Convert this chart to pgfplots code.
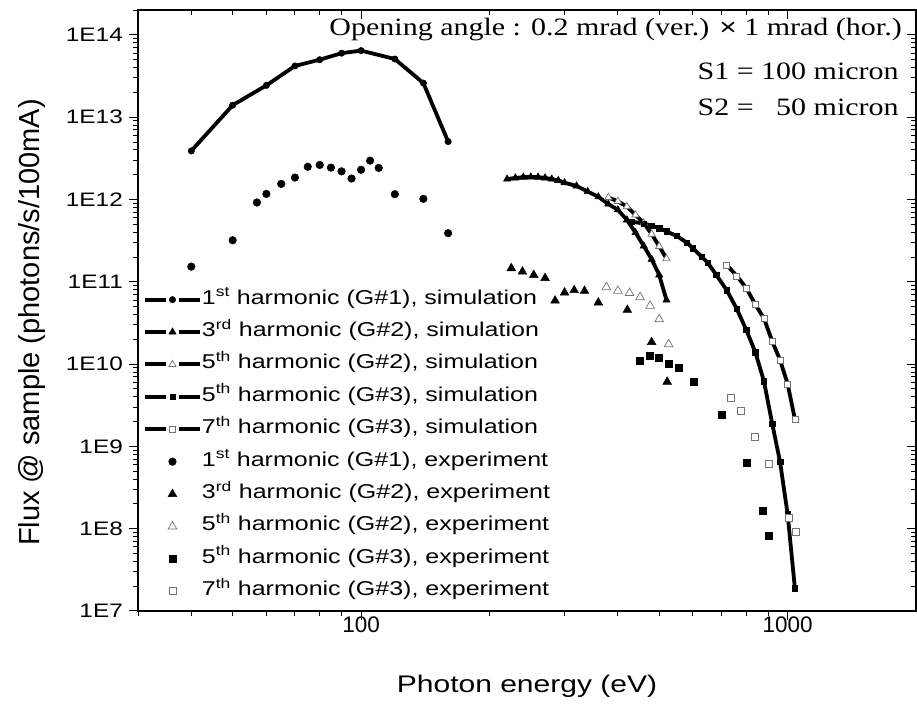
\documentclass[border=0pt]{standalone}
\usepackage{fontspec}
\setmainfont{Liberation Sans}
\newfontfamily\widesans{Liberation Sans}[FakeStretch=1.25]
\newfontfamily\wideserif{Liberation Serif}[FakeStretch=1.2]
\usepackage{pgfplots}
\pgfplotsset{compat=1.18}
\pgfplotsset{
  /pgfplots/simleg/.style={legend image code/.code={
    \draw[line width=4pt] (0pt,0pt) -- (21pt,0pt);
    \draw[line width=4pt] (34pt,0pt) -- (55pt,0pt);
    \draw plot[only marks] coordinates {(27.5pt,0pt)};}},
  /pgfplots/expleg/.style={legend image code/.code={
    \draw plot[only marks] coordinates {(27.5pt,0pt)};}},
}
\begin{document}
\begin{tikzpicture}
\path[use as bounding box] (-138pt,-95pt) rectangle (779pt,611pt);
\begin{axis}[
  at={(0,0)}, anchor=south west,
  scale only axis, width=778pt, height=601pt,
  xmode=log, ymode=log,
  xmin=30, xmax=2000, ymin=1e7, ymax=2.01e14,
  axis line style={line width=1.4pt},
  every tick/.style={black, line width=1pt},
  major tick length=9pt, minor tick length=5pt,
  xtick={100,1000},
  minor xtick={30,40,50,60,70,80,90,200,300,400,500,600,700,800,900},
  ytick={1e7,1e8,1e9,1e10,1e11,1e12,1e13,1e14},
  minor ytick={2e7,3e7,4e7,5e7,6e7,7e7,8e7,9e7,
    2e8,3e8,4e8,5e8,6e8,7e8,8e8,9e8,
    2e9,3e9,4e9,5e9,6e9,7e9,8e9,9e9,
    2e10,3e10,4e10,5e10,6e10,7e10,8e10,9e10,
    2e11,3e11,4e11,5e11,6e11,7e11,8e11,9e11,
    2e12,3e12,4e12,5e12,6e12,7e12,8e12,9e12,
    2e13,3e13,4e13,5e13,6e13,7e13,8e13,9e13,2e14},
  clip=false,
  tick pos=left, tick align=outside,
  xticklabels={100,1000},
  yticklabels={1E7,1E8,1E9,1E10,1E11,1E12,1E13,1E14},
  ticklabel style={inner sep=0pt},
  xticklabel style={font=\fontsize{22.5}{26}\selectfont, anchor=north, yshift=3.2pt},
  yticklabel style={font=\widesans\fontsize{19.5}{24}\selectfont, anchor=east, xshift=-6pt},
  xlabel={Photon energy (eV)},
  xlabel style={font=\widesans\fontsize{24}{28}\selectfont, at={(axis description cs:0.5,0)}, anchor=center, yshift=-75pt},
  ylabel={Flux @ sample (photons/s/100mA)},
  ylabel style={font=\fontsize{29}{34}\selectfont, at={(axis description cs:-0.136,0.48)}, anchor=center},
  legend cell align=left,
  legend style={at={(axis description cs:0.0064,0.5338)}, anchor=north west,
    draw=none, fill=none, inner sep=0pt, outer sep=0pt,
    font=\widesans\fontsize{20}{24}\selectfont,
    row sep=13.4pt,
    nodes={inner sep=0pt, text height=14pt, text depth=5pt},
    /tikz/every even column/.append style={column sep=7pt}},
]
% simulations
\addplot[black, line width=3.8pt, mark=*, mark size=3.2pt, mark options={solid, line width=0.5pt}, simleg]
coordinates {(40,3.9e12)(50,1.4e13)(60,2.44e13)(70,4.2e13)(80,5.0e13)(90,6.0e13)(100,6.45e13)(120,5.1e13)(140,2.6e13)(160,5.06e12)};
\addlegendentry{1\textsuperscript{st} harmonic (G\#1), simulation}
\addplot[black, line width=3.8pt, mark=triangle*, mark size=4.2pt, mark options={solid, line width=0.5pt}, simleg]
coordinates {(220,1.77e12)(230,1.83e12)(240,1.87e12)(250,1.88e12)(260,1.87e12)(270,1.83e12)(280,1.77e12)(290,1.70e12)(300,1.60e12)(320,1.46e12)(340,1.25e12)(360,1.08e12)(380,8.8e11)(400,7.5e11)(420,5.65e11)(440,3.96e11)(460,2.73e11)(480,1.88e11)(500,1.21e11)(520,6.0e10)};
\addlegendentry{3\textsuperscript{rd} harmonic (G\#2), simulation}
\addplot[black, line width=3.8pt, mark=triangle*, mark size=4.2pt, mark options={solid, line width=0.7pt, fill=white, draw=black!55}, simleg]
coordinates {(380,1.06e12)(400,9.5e11)(420,8.2e11)(440,6.5e11)(460,5.2e11)(480,3.8e11)(500,2.7e11)(520,1.92e11)};
\addlegendentry{5\textsuperscript{th} harmonic (G\#2), simulation}
\addplot[black, line width=3.8pt, mark=square*, mark size=2.7pt, mark options={solid, line width=0.5pt}, simleg]
coordinates {(430,5.4e11)(460,5.1e11)(480,4.8e11)(500,4.5e11)(520,4.1e11)(550,3.6e11)(580,3.0e11)(600,2.55e11)(630,2.0e11)(650,1.7e11)(680,1.22e11)(720,7.9e10)(760,4.7e10)(800,2.6e10)(840,1.4e10)(880,6.2e9)(920,1.9e9)(960,6.5e8)(1000,1.5e8)(1040,1.9e7)};
\addlegendentry{5\textsuperscript{th} harmonic (G\#3), simulation}
\addplot[black, line width=3.8pt, mark=square*, mark size=3pt, mark options={solid, line width=0.7pt, fill=white, draw=black!55}, simleg]
coordinates {(720,1.6e11)(760,1.18e11)(800,8.4e10)(840,5.3e10)(880,3.6e10)(920,1.9e10)(960,1.12e10)(1000,5.75e9)(1040,2.14e9)};
\addlegendentry{7\textsuperscript{th} harmonic (G\#3), simulation}
% experiments
\addplot[only marks, black, mark=*, mark size=3.8pt, mark options={solid, line width=0.5pt}, expleg]
coordinates {(40,1.53e11)(50,3.2e11)(57,9.2e11)(60,1.17e12)(65,1.55e12)(70,1.85e12)(75,2.5e12)(80,2.63e12)(85,2.44e12)(90,2.2e12)(95,1.8e12)(100,2.3e12)(105,2.97e12)(110,2.42e12)(120,1.16e12)(140,1.02e12)(160,3.9e11)};
\addlegendentry{1\textsuperscript{st} harmonic (G\#1), experiment}
\addplot[only marks, black, mark=triangle*, mark size=5pt, mark options={solid, line width=0.5pt}, expleg]
coordinates {(225,1.46e11)(239,1.33e11)(254,1.21e11)(270,1.11e11)(285,5.9e10)(300,7.4e10)(316,7.9e10)(334,7.75e10)(360,5.6e10)(421,4.55e10)(480,1.85e10)(522,6.1e9)};
\addlegendentry{3\textsuperscript{rd} harmonic (G\#2), experiment}
\addplot[only marks, black, mark=triangle*, mark size=5pt, mark options={solid, line width=0.7pt, fill=white, draw=black!55}, expleg]
coordinates {(376,8.6e10)(400,7.76e10)(426,7.3e10)(451,6.5e10)(476,5.1e10)(500,3.5e10)(526,1.74e10)};
\addlegendentry{5\textsuperscript{th} harmonic (G\#2), experiment}
\addplot[only marks, black, mark=square*, mark size=3.5pt, mark options={solid, line width=0.5pt}, expleg]
coordinates {(450,1.09e10)(476,1.25e10)(500,1.18e10)(525,1.01e10)(556,9.0e9)(602,6.1e9)(701,2.4e9)(802,6.25e8)(873,1.64e8)(904,8.3e7)};
\addlegendentry{5\textsuperscript{th} harmonic (G\#3), experiment}
\addplot[only marks, black, mark=square*, mark size=3.5pt, mark options={solid, line width=0.7pt, fill=white, draw=black!55}, expleg]
coordinates {(737,3.9e9)(779,2.7e9)(840,1.3e9)(903,6.1e8)(1005,1.36e8)(1044,9.1e7)};
\addlegendentry{7\textsuperscript{th} harmonic (G\#3), experiment}
\node[anchor=east, font=\wideserif\fontsize{25}{30}\selectfont, inner sep=0pt] at (axis description cs:0.982,0.9667) {Opening angle : 0.2 mrad (ver.) {\fontsize{24}{28}\selectfont\widesans ×} 1 mrad (hor.)};
\node[anchor=east, font=\wideserif\fontsize{25}{30}\selectfont, inner sep=0pt] at (axis description cs:0.978,0.8973) {S1 = 100 micron};
\node[anchor=east, font=\wideserif\fontsize{25}{30}\selectfont, inner sep=0pt] at (axis description cs:0.978,0.8386) {S2 = \hphantom{1}50 micron};
\end{axis}
\begin{axis}[
  at={(0,0)}, anchor=south west,
  scale only axis, width=778pt, height=601pt,
  xmode=log, ymode=log,
  xmin=30, xmax=2000, ymin=1e7, ymax=2.01e14,
  axis line style={line width=1.4pt},
  every tick/.style={black, line width=1pt},
  major tick length=9pt, minor tick length=5pt,
  xtick={100,1000},
  minor xtick={30,40,50,60,70,80,90,200,300,400,500,600,700,800,900},
  ytick={1e7,1e8,1e9,1e10,1e11,1e12,1e13,1e14},
  minor ytick={2e7,3e7,4e7,5e7,6e7,7e7,8e7,9e7,
    2e8,3e8,4e8,5e8,6e8,7e8,8e8,9e8,
    2e9,3e9,4e9,5e9,6e9,7e9,8e9,9e9,
    2e10,3e10,4e10,5e10,6e10,7e10,8e10,9e10,
    2e11,3e11,4e11,5e11,6e11,7e11,8e11,9e11,
    2e12,3e12,4e12,5e12,6e12,7e12,8e12,9e12,
    2e13,3e13,4e13,5e13,6e13,7e13,8e13,9e13,2e14},
  tick pos=right, tick align=inside,
  xticklabels={}, yticklabels={},
]
\end{axis}
\end{tikzpicture}
\end{document}
